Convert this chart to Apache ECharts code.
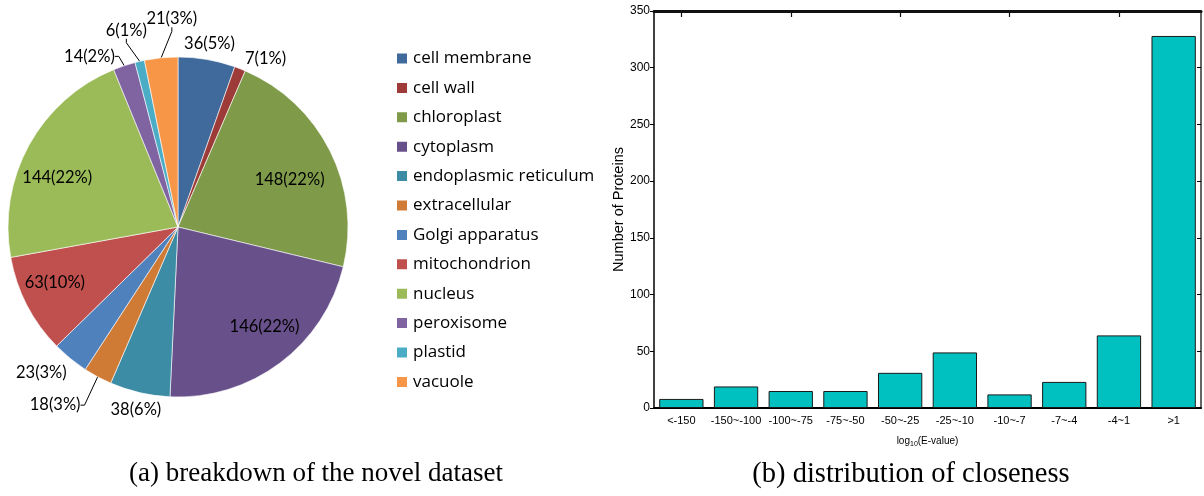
<!DOCTYPE html>
<html>
<head>
<meta charset="utf-8">
<script src="https://cdn.jsdelivr.net/npm/echarts@6/dist/echarts.min.js"></script>
<style>
html, body { margin: 0; padding: 0; background: #fff; }
#main { width: 1204px; height: 496px; }
</style>
</head>
<body>
<div id="main"></div>
<script>
// pie: where the novel proteins sit
var locations = ['cell membrane', 'cell wall', 'chloroplast', 'cytoplasm', 'endoplasmic reticulum',
  'extracellular', 'Golgi apparatus', 'mitochondrion', 'nucleus', 'peroxisome', 'plastid', 'vacuole'];
var counts = [36, 7, 148, 146, 38, 18, 23, 63, 144, 14, 6, 21];
var sharePct = [5, 1, 22, 22, 6, 3, 3, 10, 22, 2, 1, 3]; // as printed on the figure
var pieColors = ['#3f6a9b', '#9c3b38', '#7f9b4a', '#68508a', '#3b8ca4', '#cf7a35',
  '#4f81bd', '#c0504d', '#9bbb59', '#8064a2', '#4bacc6', '#f79646'];

// bars: closeness histogram
var evalueBins = ['<-150', '-150~-100', '-100~-75', '-75~-50', '-50~-25', '-25~-10', '-10~-7', '-7~-4', '-4~1', '>1'];
var proteinCounts = [8, 19, 15, 15, 31, 49, 12, 23, 64, 328];

// pie layout
var pieCenter = [178, 227];
var pieRadius = 170;
// label nudges (the original had some labels dragged by hand)
var labelAngleShift = [0, 6, 3.6, -4, 0, 6.4, 3.9, 3, -6.7, -9, -1.7, 4]; // degrees
var labelPush = [0, 0, -8, 3, 0, 22, 3, 6, 1, 0, 17, 26]; // px outward
var leaderLine = [false, false, false, false, false, true, false, false, false, true, true, true];
var uiFont = 'Lato';

var total = counts.reduce(function (a, b) { return a + b; }, 0);
var midAngle = [];
var acc = 0;
counts.forEach(function (v) {
  midAngle.push((acc + v / 2) / total * Math.PI * 2); // clockwise from 12 o'clock
  acc += v;
});

var chart = echarts.init(document.getElementById('main'));

var pieData = counts.map(function (v, i) {
  var inside = v >= 50;
  return {
    name: locations[i],
    value: v,
    label: { position: inside ? 'inside' : 'outside' },
    labelLine: { show: leaderLine[i] }
  };
});

chart.setOption({
  backgroundColor: '#fff',
  animation: false,
  color: pieColors,
  legend: {
    orient: 'vertical',
    left: 395,
    top: 50,
    padding: 0,
    icon: 'rect',
    itemWidth: 12,
    itemHeight: 12,
    itemGap: 12.4,
    textStyle: { fontFamily: 'Open Sans', fontSize: 17, color: '#000', lineHeight: 16 },
    data: locations
  },
  grid: {
    left: 654,
    right: 3,
    top: 11,
    bottom: 88
  },
  xAxis: [{
    type: 'category',
    gridIndex: 0,
    data: evalueBins,
    position: 'bottom',
    axisLine: { lineStyle: { color: '#000', width: 2 } },
    axisTick: { show: false },
    axisLabel: { color: '#000', fontFamily: 'Liberation Sans', fontSize: 11, margin: 7, interval: 0 },
    name: 'log{s|10}(E-value)',
    nameLocation: 'middle',
    nameGap: 27,
    nameTextStyle: {
      color: '#000', fontFamily: 'Liberation Sans', fontSize: 10,
      rich: { s: { fontSize: 7, verticalAlign: 'bottom', padding: [6, 0, 0, 0], fontFamily: 'Liberation Sans' } }
    }
  }, {
    type: 'category',
    gridIndex: 0,
    data: evalueBins,
    position: 'top',
    z: 10,
    axisLine: { show: true, onZero: false, lineStyle: { color: '#111', width: 3 } },
    axisTick: { show: true, inside: true, length: 6, alignWithLabel: true, lineStyle: { color: '#111', width: 1.2 } },
    axisLabel: { show: false }
  }],
  yAxis: [{
    type: 'value',
    min: 0,
    max: 350,
    interval: 50,
    position: 'left',
    axisLine: { show: true, onZero: false, lineStyle: { color: '#000', width: 1.5 } },
    axisTick: { show: true, length: 4, lineStyle: { color: '#000' } },
    splitLine: { show: false },
    axisLabel: { color: '#000', fontFamily: 'Liberation Sans', fontSize: 12, margin: 4 },
    name: 'Number of Proteins',
    nameLocation: 'middle',
    nameGap: 28,
    nameTextStyle: { color: '#000', fontFamily: 'Liberation Sans', fontSize: 14.5 }
  }, {
    type: 'value',
    min: 0,
    max: 350,
    interval: 50,
    position: 'right',
    axisLine: { show: true, onZero: false, lineStyle: { color: '#666', width: 2 } },
    axisTick: { show: true, inside: true, length: 4, lineStyle: { color: '#000' } },
    splitLine: { show: false },
    axisLabel: { show: false }
  }],
  series: [{
    type: 'pie',
    center: pieCenter,
    radius: pieRadius,
    startAngle: 90,
    clockwise: true,
    data: pieData,
    itemStyle: { borderColor: '#fff', borderWidth: 0.6 },
    label: {
      color: '#000',
      fontFamily: uiFont,
      fontSize: 16.5,
      overflow: 'none',
      formatter: function (p) {
        return p.value + '(' + sharePct[p.dataIndex] + '%)';
      }
    },
    labelLine: {
      length: 6,
      length2: 4,
      lineStyle: { color: '#000', width: 1 }
    },
    labelLayout: function (p) {
      var i = p.dataIndex;
      var a = midAngle[i] + labelAngleShift[i] * Math.PI / 180;
      var dx = Math.sin(a), dy = -Math.cos(a);
      var w = p.labelRect.width, h = p.labelRect.height;
      var dist;
      if (counts[i] >= 50) {
        dist = pieRadius * 0.76;
      } else {
        // keep the label box just clear of the rim
        dist = pieRadius + 3 + Math.abs(dx) * w / 2 + Math.abs(dy) * h / 2;
      }
      dist += labelPush[i];
      return {
        x: pieCenter[0] + dx * dist,
        y: pieCenter[1] + dy * dist,
        align: 'center',
        verticalAlign: 'middle'
      };
    }
  }, {
    type: 'bar',
    xAxisIndex: 0,
    yAxisIndex: 0,
    data: proteinCounts,
    barCategoryGap: '19%',
    itemStyle: { color: '#00c0c0', borderColor: '#1a1a1a', borderWidth: 1 }
  }],
  graphic: [{
    type: 'text',
    x: 316,
    y: 460,
    style: { text: '(a) breakdown of the novel dataset', fill: '#000', font: '27px "Liberation Serif"', align: 'center', textAlign: 'center' }
  }, {
    type: 'text',
    x: 911,
    y: 460,
    style: { text: '(b) distribution of closeness', fill: '#000', font: '28.5px "Liberation Serif"', align: 'center', textAlign: 'center' }
  }]
});
</script>
</body>
</html>
